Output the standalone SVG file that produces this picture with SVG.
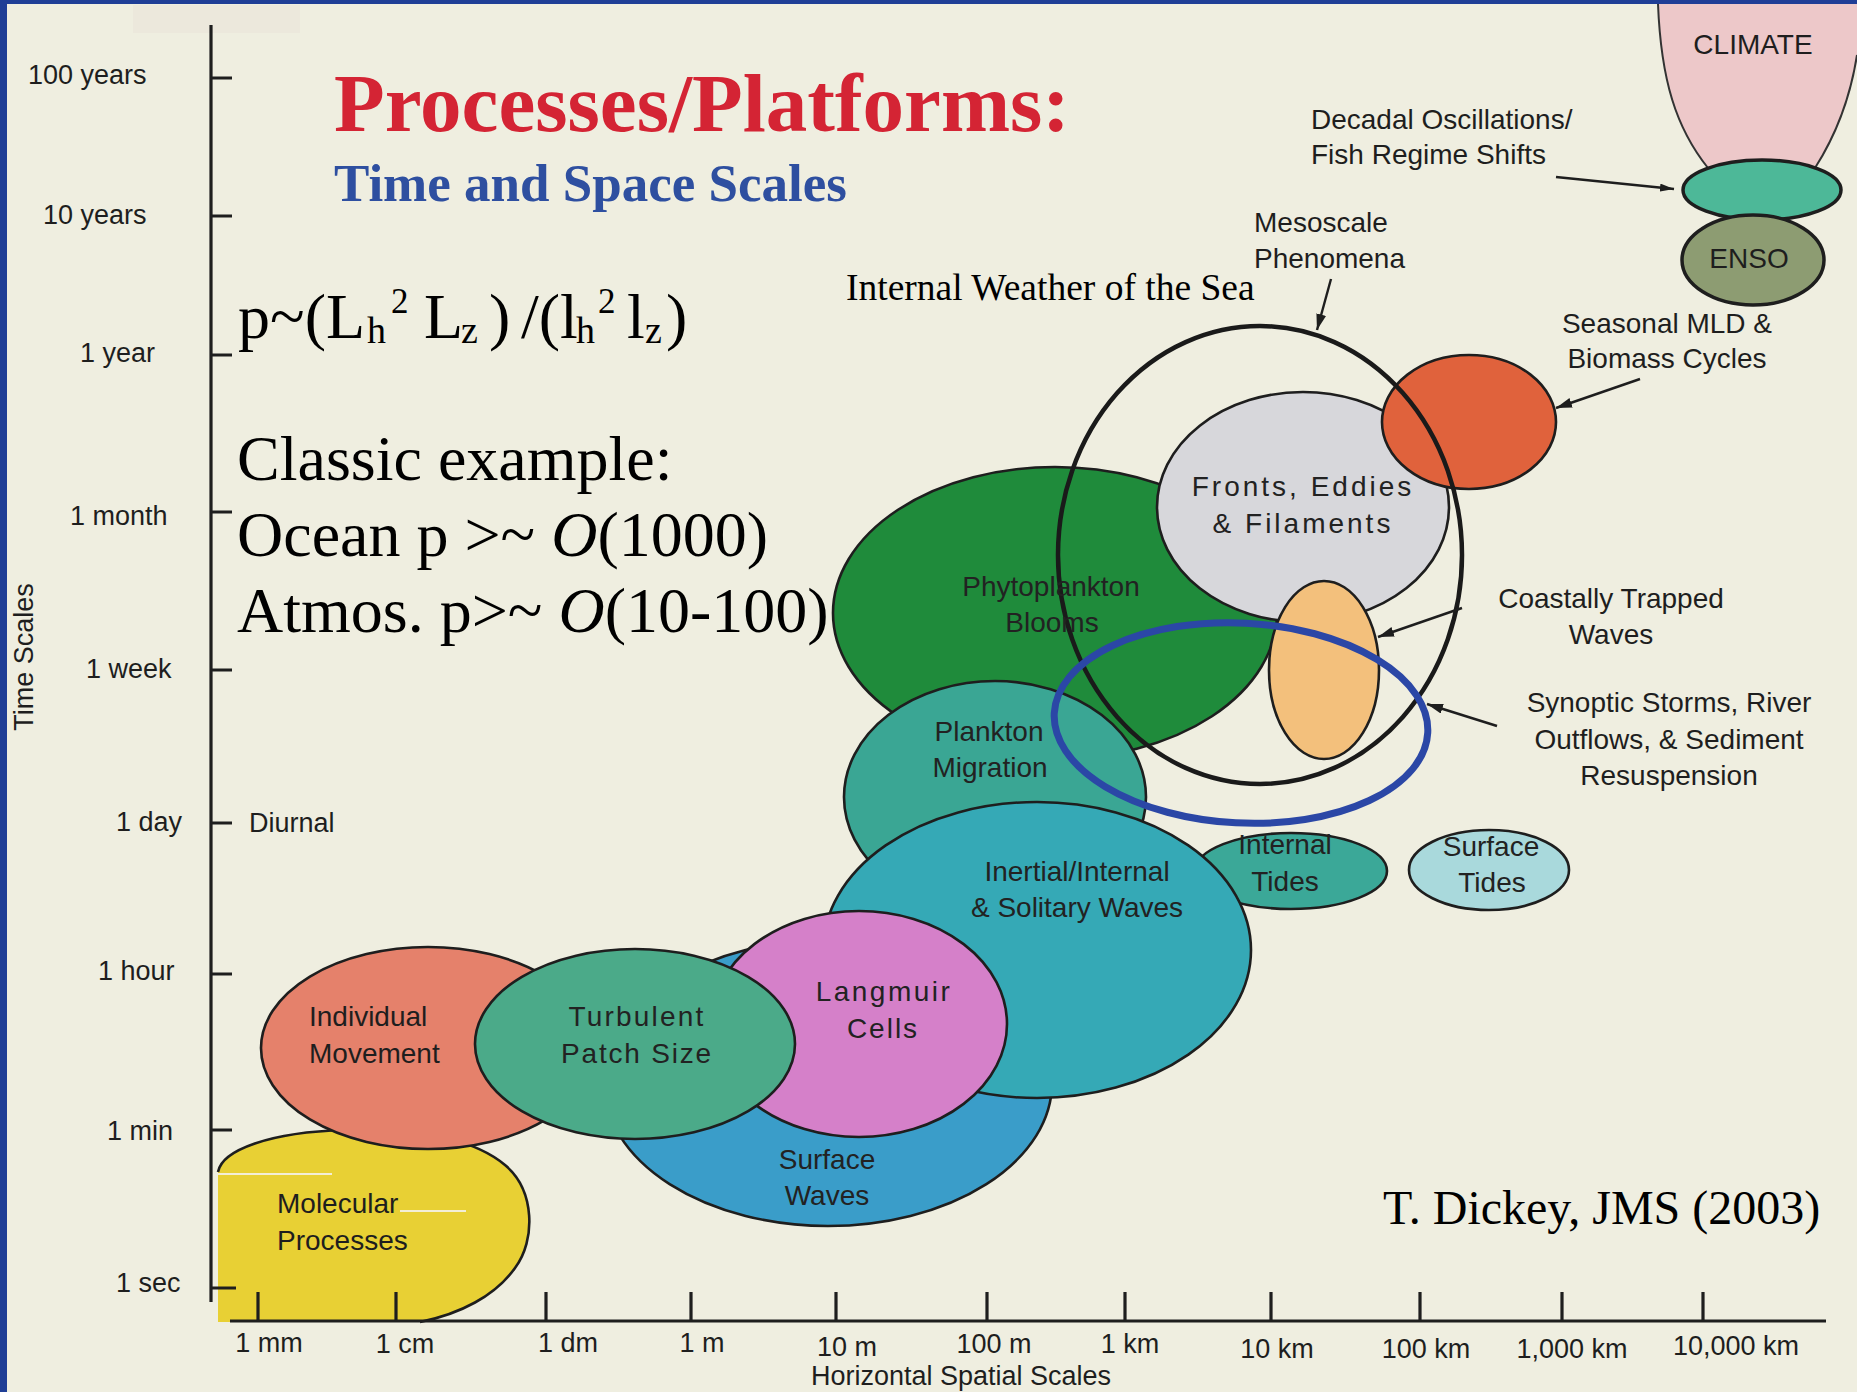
<svg xmlns="http://www.w3.org/2000/svg" width="1857" height="1392" viewBox="0 0 1857 1392">
<defs>
<style>
.sans{font-family:"Liberation Sans",Arial,sans-serif;fill:#1e1e1e}
.tk{font-size:27px}
.xl{font-size:27px;text-anchor:middle}
.in{font-size:28px;text-anchor:middle;fill:#222}
.note{font-size:28px;text-anchor:middle}
.serif{font-family:"Liberation Serif","Times New Roman",serif;fill:#000}
.blob{stroke:#1e1e1e;stroke-width:2.6}
.axis{stroke:#1e1e1e;stroke-width:3.2;fill:none}
.arr{stroke:#1e1e1e;stroke-width:2.4;fill:none}
</style>
<marker id="ah" markerWidth="16" markerHeight="10" refX="16" refY="5" orient="auto" markerUnits="userSpaceOnUse"><path d="M0,0 L16,5 L0,10 z" fill="#1e1e1e"/></marker>
<marker id="ahs" markerWidth="14" markerHeight="8" refX="14" refY="4" orient="auto" markerUnits="userSpaceOnUse"><path d="M0,0 L14,4 L0,8 z" fill="#1e1e1e"/></marker>
</defs>
<rect x="0" y="0" width="1857" height="1392" fill="#EFEEE0"/>
<rect x="133" y="5" width="167" height="28" fill="#ECE8DC"/>
<rect x="0" y="0" width="1857" height="4" fill="#1F3E96"/>
<rect x="0" y="0" width="7" height="1392" fill="#1F3E96"/>

<g id="climate">
<path d="M1658,4 C1661,80 1676,128 1708,168 L1815,168 C1836,135 1850,100 1857,55 L1857,4 Z" fill="#EDC8C9"/>
<path d="M1658,4 C1661,80 1676,128 1708,168 M1815,168 C1836,135 1850,100 1857,55" fill="none" stroke="#333" stroke-width="2"/>
<text class="sans" x="1753" y="54" font-size="28" text-anchor="middle">CLIMATE</text>
</g>
<g id="decadal"><ellipse cx="1762" cy="190" rx="79" ry="30" fill="#4DB898" stroke="#1e1e1e" stroke-width="3.5"/></g>
<g id="enso"><ellipse cx="1753" cy="260" rx="71" ry="45" fill="#8D9C72" stroke="#1e1e1e" stroke-width="3.5"/>
<text class="sans" x="1749" y="268" font-size="28" text-anchor="middle">ENSO</text></g>

<g id="phytoplankton"><ellipse class="blob" cx="1055" cy="613" rx="222" ry="146" fill="#1F8B3B"/></g>
<g id="fronts"><ellipse class="blob" cx="1303" cy="507" rx="146" ry="115" fill="#D7D7DB"/></g>
<g id="seasonal"><ellipse class="blob" cx="1469" cy="422" rx="87" ry="67" fill="#E0623C"/></g>
<g id="coastal"><ellipse class="blob" cx="1324" cy="670" rx="55" ry="89" fill="#F3C07C"/></g>
<g id="plankton-migration"><ellipse class="blob" cx="995" cy="797" rx="151" ry="116" fill="#3AA694"/></g>
<g id="internal-tides"><ellipse class="blob" cx="1291" cy="871" rx="96" ry="38" fill="#3BA898"/></g>
<g id="surface-waves"><ellipse class="blob" cx="828" cy="1083" rx="224" ry="143" fill="#3A9DC9"/></g>
<g id="inertial"><ellipse class="blob" cx="1037" cy="950" rx="214" ry="148" fill="#35A9B6"/></g>
<g id="langmuir"><ellipse class="blob" cx="859" cy="1024" rx="148" ry="113" fill="#D580C9"/></g>
<g id="molecular">
<path d="M218,1322 L218,1172 C222,1150 270,1132 345,1130 C420,1128 475,1140 505,1165 C535,1190 536,1240 515,1268 C495,1296 460,1314 420,1322 Z" fill="#E8D034"/>
<path d="M218,1172 C222,1150 270,1132 345,1130 C420,1128 475,1140 505,1165 C535,1190 536,1240 515,1268 C495,1296 460,1314 420,1322" fill="none" stroke="#1e1e1e" stroke-width="2.6"/>
<line x1="218" y1="1174" x2="332" y2="1174" stroke="#F3EED6" stroke-width="2"/>
<line x1="400" y1="1211" x2="466" y2="1211" stroke="#F3EED6" stroke-width="2"/>
</g>
<g id="individual"><ellipse class="blob" cx="428" cy="1048" rx="167" ry="101" fill="#E5816B"/></g>
<g id="turbulent"><ellipse class="blob" cx="635" cy="1044" rx="160" ry="95" fill="#4BAA89"/></g>
<g id="surface-tides"><ellipse class="blob" cx="1489" cy="870" rx="80" ry="40" fill="#A9D9DC"/></g>
<g id="mesoscale"><ellipse cx="1260" cy="555" rx="202" ry="229" fill="none" stroke="#1a1a1a" stroke-width="4.5"/></g>
<g id="synoptic"><ellipse cx="1241" cy="723" rx="187" ry="100" transform="rotate(3 1241 723)" fill="none" stroke="#2B47A6" stroke-width="7"/></g>

<g id="axes">
<line class="axis" x1="211" y1="25" x2="211" y2="1302"/>
<line class="axis" x1="230" y1="1321" x2="1826" y2="1321" stroke-width="3.6"/>
<path class="axis" d="M211,78 H232 M211,216 H232 M211,355 H232 M211,512 H232 M211,670 H232 M211,823 H232 M211,974 H232 M211,1130 H232 M211,1288 H236"/>
<path class="axis" d="M258,1292 V1321 M396,1292 V1321 M546,1292 V1321 M691,1292 V1321 M836,1292 V1321 M987,1292 V1321 M1125,1292 V1321 M1271,1292 V1321 M1420,1292 V1321 M1562,1292 V1321 M1703,1292 V1321"/>
</g>

<g id="connectors">
<line class="arr" x1="1556" y1="177" x2="1674" y2="189" stroke-width="1.6" marker-end="url(#ahs)"/>
<line class="arr" x1="1331" y1="279" x2="1317" y2="330" marker-end="url(#ah)"/>
<line class="arr" x1="1640" y1="379" x2="1556" y2="408" marker-end="url(#ah)"/>
<line class="arr" x1="1462" y1="608" x2="1378" y2="637" marker-end="url(#ah)"/>
<line class="arr" x1="1497" y1="726" x2="1427" y2="704" marker-end="url(#ah)"/>
</g>

<g id="labels" class="sans">
<text class="sans tk" x="28" y="84">100 years</text>
<text class="sans tk" x="43" y="224">10 years</text>
<text class="sans tk" x="80" y="362">1 year</text>
<text class="sans tk" x="70" y="525">1 month</text>
<text class="sans tk" x="86" y="678">1 week</text>
<text class="sans tk" x="116" y="831">1 day</text>
<text class="sans tk" x="249" y="832">Diurnal</text>
<text class="sans tk" x="98" y="980">1 hour</text>
<text class="sans tk" x="107" y="1140">1 min</text>
<text class="sans tk" x="116" y="1292">1 sec</text>
<text class="sans tk" x="0" y="0" text-anchor="middle" transform="translate(33 657) rotate(-90)">Time Scales</text>
<text class="sans xl" x="269" y="1352">1 mm</text>
<text class="sans xl" x="405" y="1353">1 cm</text>
<text class="sans xl" x="568" y="1352">1 dm</text>
<text class="sans xl" x="702" y="1352">1 m</text>
<text class="sans xl" x="847" y="1356">10 m</text>
<text class="sans xl" x="994" y="1353">100 m</text>
<text class="sans xl" x="1130" y="1353">1 km</text>
<text class="sans xl" x="1277" y="1358">10 km</text>
<text class="sans xl" x="1426" y="1358">100 km</text>
<text class="sans xl" x="1572" y="1358">1,000 km</text>
<text class="sans xl" x="1736" y="1355">10,000 km</text>
<text class="sans xl" x="961" y="1385">Horizontal Spatial Scales</text>

<text class="sans" x="1311" y="129" font-size="28">Decadal Oscillations/</text>
<text class="sans" x="1311" y="164" font-size="28">Fish Regime Shifts</text>
<text class="sans" x="1254" y="232" font-size="28">Mesoscale</text>
<text class="sans" x="1254" y="268" font-size="28">Phenomena</text>
<text class="sans note" x="1667" y="333">Seasonal MLD &amp;</text>
<text class="sans note" x="1667" y="368">Biomass Cycles</text>
<text class="sans note" x="1611" y="608">Coastally Trapped</text>
<text class="sans note" x="1611" y="644">Waves</text>
<text class="sans note" x="1669" y="712">Synoptic Storms, River</text>
<text class="sans note" x="1669" y="749">Outflows, &amp; Sediment</text>
<text class="sans note" x="1669" y="785">Resuspension</text>

<text class="sans in" x="1051" y="596" fill="#2a2a2a">Phytoplankton</text>
<text class="sans in" x="1052" y="632" fill="#2a2a2a">Blooms</text>
<text class="sans in" x="1303" y="496" letter-spacing="3">Fronts, Eddies</text>
<text class="sans in" x="1303" y="533" letter-spacing="3">&amp; Filaments</text>
<text class="sans in" x="989" y="741">Plankton</text>
<text class="sans in" x="990" y="777">Migration</text>
<text class="sans in" x="1077" y="881">Inertial/Internal</text>
<text class="sans in" x="1077" y="917">&amp; Solitary Waves</text>
<text class="sans in" x="1285" y="854" font-size="26">Internal</text>
<text class="sans in" x="1285" y="891" font-size="26">Tides</text>
<text class="sans in" x="1491" y="856" font-size="26">Surface</text>
<text class="sans in" x="1492" y="892" font-size="26">Tides</text>
<text class="sans in" x="884" y="1001" letter-spacing="2.5">Langmuir</text>
<text class="sans in" x="883" y="1038" letter-spacing="2">Cells</text>
<text class="sans in" x="637" y="1026" letter-spacing="2.2">Turbulent</text>
<text class="sans in" x="637" y="1063" letter-spacing="1.8">Patch Size</text>
<text class="sans" x="309" y="1026" font-size="28">Individual</text>
<text class="sans" x="309" y="1063" font-size="28">Movement</text>
<text class="sans in" x="827" y="1169">Surface</text>
<text class="sans in" x="827" y="1205">Waves</text>
<text class="sans" x="277" y="1213" font-size="28">Molecular</text>
<text class="sans" x="277" y="1250" font-size="28">Processes</text>
</g>

<g id="titles">
<text class="serif" x="334" y="131" font-size="83" font-weight="bold" style="fill:#D42434">Processes/Platforms:</text>
<text class="serif" x="334" y="201" font-size="53" font-weight="bold" style="fill:#2E4FA0">Time and Space Scales</text>
<text class="serif" font-size="64"><tspan x="238" y="338">p~(L</tspan><tspan x="367" y="343" font-size="38">h</tspan><tspan x="391" y="313" font-size="35">2</tspan><tspan x="424" y="338">L</tspan><tspan x="461" y="343" font-size="38">z</tspan><tspan x="489" y="338">)</tspan><tspan x="521" y="338">/(l</tspan><tspan x="576" y="343" font-size="38">h</tspan><tspan x="598" y="313" font-size="35">2</tspan><tspan x="627" y="338">l</tspan><tspan x="645" y="343" font-size="38">z</tspan><tspan x="666" y="338">)</tspan></text>
<text class="serif" x="237" y="480" font-size="64">Classic example:</text>
<text class="serif" x="237" y="556" font-size="64">Ocean p &gt;~ <tspan font-style="italic">O</tspan>(1000)</text>
<text class="serif" x="237" y="632" font-size="64">Atmos. p&gt;~ <tspan font-style="italic">O</tspan>(10-100)</text>
<text class="serif" x="846" y="300" font-size="37.5">Internal Weather of the Sea</text>
<text class="serif" x="1383" y="1224" font-size="48">T. Dickey, JMS (2003)</text>
</g>
</svg>
